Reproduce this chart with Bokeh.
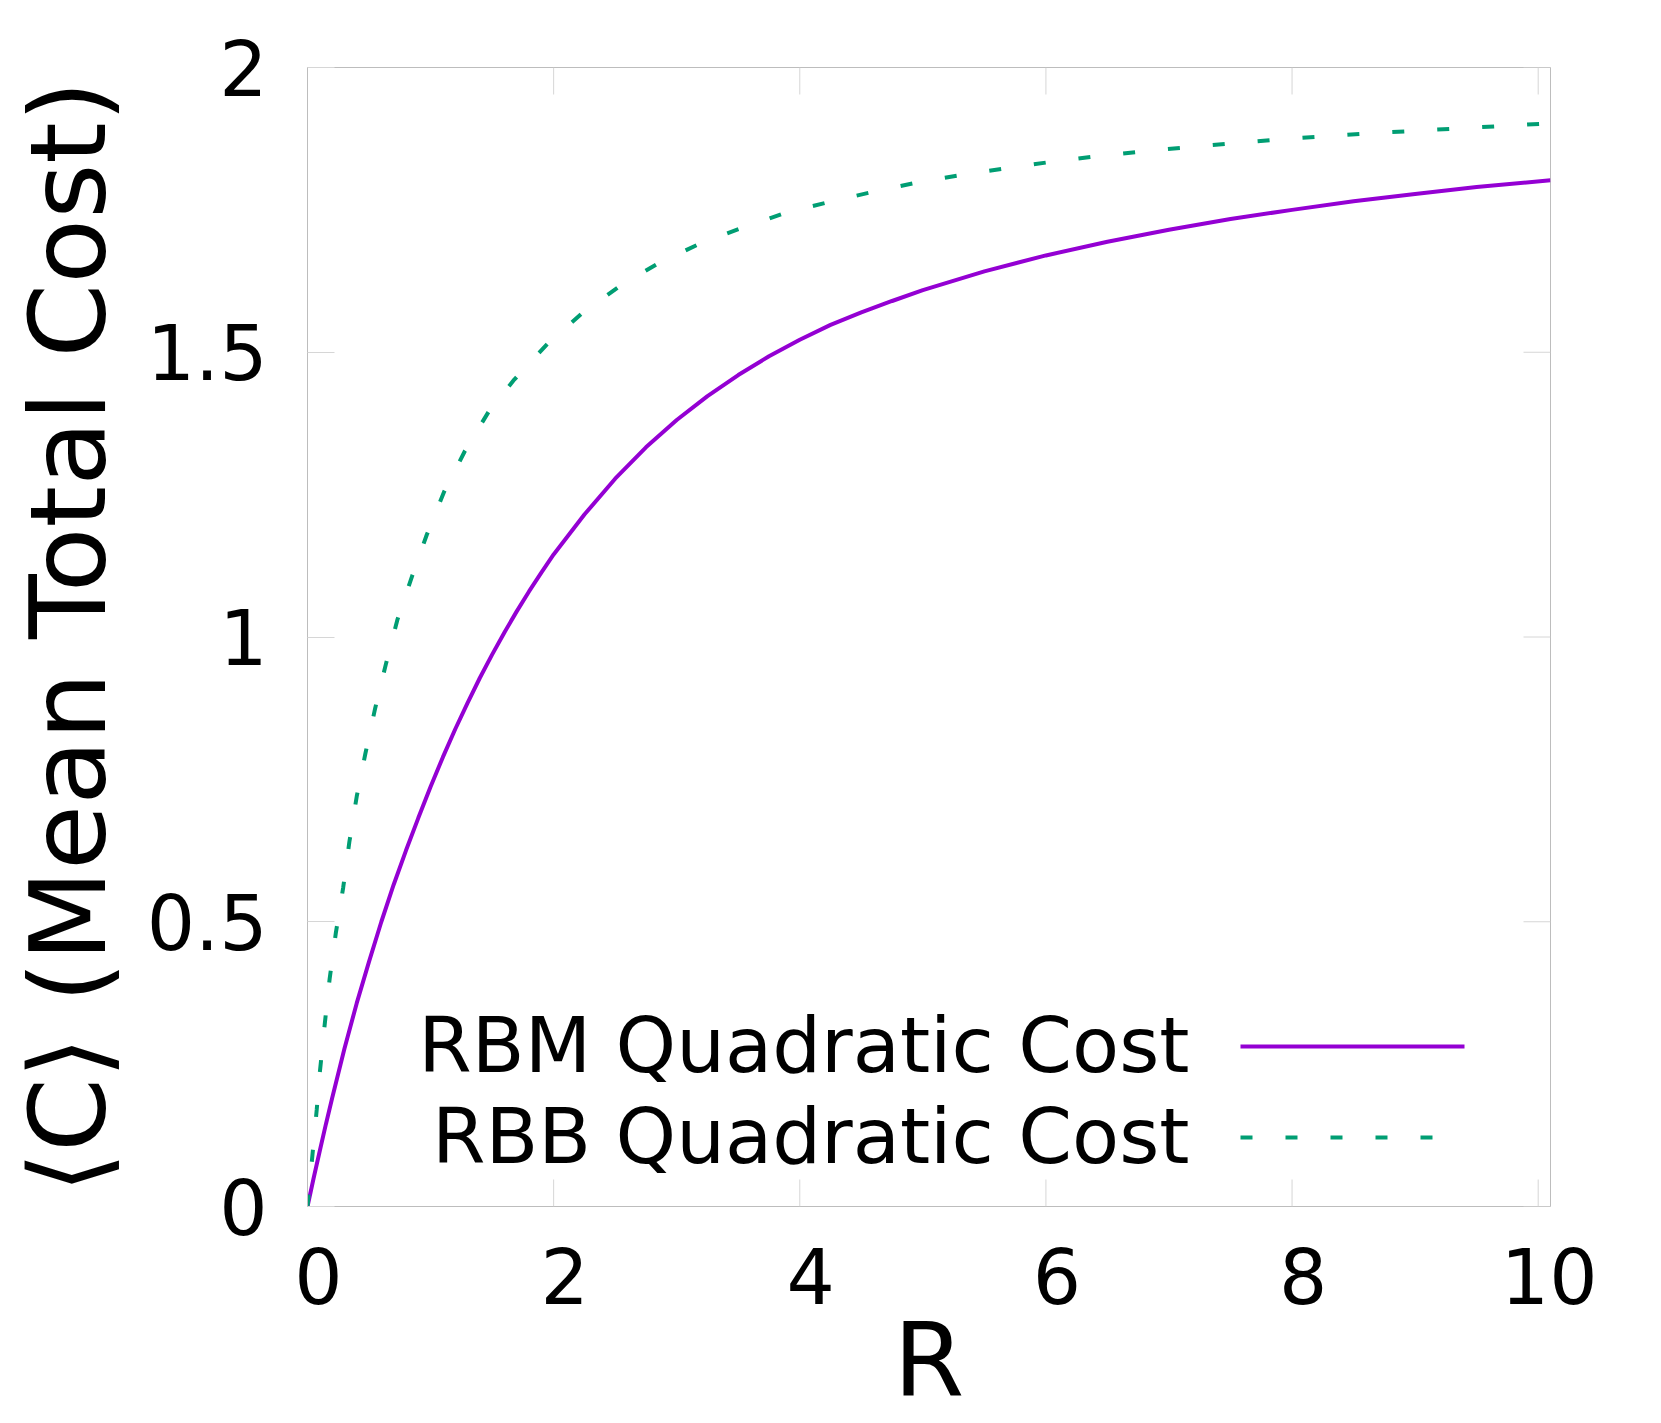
from bokeh.plotting import figure
from bokeh.models import Range1d, LinearAxis, FixedTicker, Label, Arrow
from bokeh.embed import file_html
from bokeh.resources import INLINE

# ---------------- data ----------------
R_rbm = [0, 0.05, 0.1, 0.15, 0.2, 0.3, 0.4, 0.5, 0.6, 0.7, 0.8, 0.9, 1.0, 1.1,
         1.2, 1.3, 1.4, 1.5, 1.6, 1.7, 1.8, 1.9, 2.0, 2.25, 2.5, 2.75, 3.0, 3.25,
         3.5, 3.75, 4.0, 4.25, 4.5, 4.75, 5.0, 5.5, 6.0, 6.5, 7.0, 7.5, 8.0, 8.5,
         9.0, 9.5, 10.1]
C_rbm = [0, 0.050, 0.098, 0.145, 0.190, 0.277, 0.357, 0.430, 0.500, 0.565, 0.625,
         0.682, 0.737, 0.789, 0.838, 0.884, 0.928, 0.969, 1.008, 1.045, 1.080,
         1.113, 1.145, 1.215, 1.278, 1.333, 1.381, 1.423, 1.460, 1.493, 1.522,
         1.548, 1.570, 1.590, 1.609, 1.642, 1.670, 1.694, 1.715, 1.734, 1.750,
         1.765, 1.778, 1.790, 1.802]

R_rbb = [0, 0.04, 0.075, 0.10, 0.14, 0.18, 0.23, 0.29, 0.34, 0.40, 0.47, 0.55,
         0.64, 0.73, 0.85, 0.97, 1.11, 1.28, 1.47, 1.68, 1.95, 2.25, 2.55, 2.85,
         3.2, 3.55, 3.9, 4.3, 4.6, 4.95, 5.3, 5.7, 6.0, 6.4, 6.8, 7.15, 7.85,
         8.6, 9.35, 10.1]
C_rbb = [0, 0.09, 0.17, 0.235, 0.32, 0.40, 0.48, 0.56, 0.64, 0.72, 0.795, 0.875,
         0.955, 1.03, 1.107, 1.18, 1.255, 1.327, 1.395, 1.452, 1.515, 1.572,
         1.618, 1.656, 1.692, 1.720, 1.746, 1.767, 1.782, 1.798, 1.811, 1.824,
         1.833, 1.844, 1.853, 1.860, 1.873, 1.884, 1.893, 1.902]

x_ticks = [0, 2, 4, 6, 8, 10]
y_ticks = [0, 0.5, 1, 1.5, 2]
y_tick_labels = ["0", "0.5", "1", "1.5", "2"]
series_names = ["RBM Quadratic Cost", "RBB Quadratic Cost"]
series_colors = ["#9400d3", "#009e73"]
x_label = "R"
y_label = "\u27e8C\u27e9 (Mean Total Cost)"

# ---------------- layout / style ----------------
X_MIN, X_MAX = 0, 10.1
Y_MIN, Y_MAX = 0, 2
FONT = "DejaVu Sans"
FRAME_W, FRAME_H = 1243, 1139
BORDER_L, BORDER_T, BORDER_R, BORDER_B = 307, 67, 105, 215
FRAME_COLOR = "#bdbdbd"
TICK_COLOR = "#d6d6d6"
TICK_LEN = 27
LABEL_SHIFT_PX = 11
TICK_FONT = "76px"
TITLE_FONT_Y = "106px"
TITLE_FONT_X = "102px"
LEGEND_FONT = "77px"
BASELINE_FIX = 0.39   # em offset observed for alphabetic labels


def dx(px):
    return px * (X_MAX - X_MIN) / FRAME_W


def dy(px):
    return px * (Y_MAX - Y_MIN) / FRAME_H


p = figure(frame_width=FRAME_W, frame_height=FRAME_H,
           x_range=Range1d(X_MIN, X_MAX), y_range=Range1d(Y_MIN, Y_MAX),
           output_backend="svg", toolbar_location=None,
           x_axis_location=None, y_axis_location=None,
           min_border_left=BORDER_L, min_border_top=BORDER_T,
           min_border_right=BORDER_R, min_border_bottom=BORDER_B,
           background_fill_color="white", border_fill_color="white")
p.grid.grid_line_color = None
p.outline_line_color = FRAME_COLOR
p.outline_line_width = 1

# left axis with labels and inward ticks
yax = LinearAxis(ticker=FixedTicker(ticks=y_ticks),
                 major_label_overrides={t: s for t, s in zip(y_ticks, y_tick_labels)})
yax.major_tick_in = TICK_LEN
yax.major_tick_out = 0
yax.minor_tick_line_color = None
yax.major_tick_line_color = TICK_COLOR
yax.axis_line_color = FRAME_COLOR
yax.major_label_text_font = FONT
yax.major_label_text_font_size = TICK_FONT
yax.major_label_text_color = "black"
yax.major_label_standoff = 40
yax.axis_label = y_label
yax.axis_label_text_font = FONT
yax.axis_label_text_font_size = TITLE_FONT_Y
yax.axis_label_text_font_style = "normal"
yax.axis_label_text_color = "black"
yax.axis_label_standoff = 14
p.add_layout(yax, "left")

# bottom labels (gnuplot-like slight offset to the right of the ticks)
shift = dx(LABEL_SHIFT_PX)
p.extra_x_ranges = {"xlab": Range1d(X_MIN - shift, X_MAX - shift)}
xax = LinearAxis(x_range_name="xlab", ticker=FixedTicker(ticks=x_ticks))
xax.axis_line_color = None
xax.major_tick_line_color = None
xax.minor_tick_line_color = None
xax.major_tick_in = 0
xax.major_tick_out = 0
xax.major_label_text_font = FONT
xax.major_label_text_font_size = TICK_FONT
xax.major_label_text_color = "black"
xax.major_label_standoff = 41
xax.axis_label = x_label
xax.axis_label_text_font = FONT
xax.axis_label_text_font_size = TITLE_FONT_X
xax.axis_label_text_font_style = "normal"
xax.axis_label_text_color = "black"
xax.axis_label_standoff = -7
p.add_layout(xax, "below")

# inward tick marks on bottom, top and right edges (from the tick lists)
tl_y = dy(TICK_LEN)
tl_x = dx(TICK_LEN)
p.segment(x0=x_ticks, y0=[Y_MIN] * len(x_ticks), x1=x_ticks, y1=[Y_MIN + tl_y] * len(x_ticks),
          line_color=TICK_COLOR, line_width=1)
p.segment(x0=x_ticks, y0=[Y_MAX] * len(x_ticks), x1=x_ticks, y1=[Y_MAX - tl_y] * len(x_ticks),
          line_color=TICK_COLOR, line_width=1)
p.segment(x0=[X_MAX] * len(y_ticks), y0=y_ticks, x1=[X_MAX - tl_x] * len(y_ticks), y1=y_ticks,
          line_color=TICK_COLOR, line_width=1)

# ---------------- curves ----------------
p.line(R_rbm, C_rbm, line_color=series_colors[0], line_width=4)
p.line(R_rbb, C_rbb, line_color=series_colors[1], line_width=4, line_dash="12 33")

# ---------------- legend (text left, sample right, as in the reference) ----------------
LEG_TEXT_RIGHT = 882       # px from frame left
LEG_BASELINE0 = 131        # px above frame bottom
LEG_ROW_GAP = 91
LEG_SAMPLE_X0, LEG_SAMPLE_X1 = 933, 1157
LEG_SAMPLE_DY = 29         # sample line above text baseline
dashes = [None, "12 33"]
for i, name in enumerate(series_names):
    base = LEG_BASELINE0 - i * LEG_ROW_GAP
    p.add_layout(Label(x=X_MIN + dx(LEG_TEXT_RIGHT),
                       y=Y_MIN + dy(base + BASELINE_FIX * 77), text=name,
                       text_align="right", text_baseline="alphabetic",
                       text_font=FONT, text_font_size=LEGEND_FONT, text_color="black"))
    kw = dict(x_start=X_MIN + dx(LEG_SAMPLE_X0), y_start=Y_MIN + dy(base + LEG_SAMPLE_DY),
              x_end=X_MIN + dx(LEG_SAMPLE_X1), y_end=Y_MIN + dy(base + LEG_SAMPLE_DY),
              end=None, line_color=series_colors[i], line_width=4)
    if dashes[i]:
        kw["line_dash"] = dashes[i]
    p.add_layout(Arrow(**kw))

open("out.html", "w").write(file_html(p, INLINE))
